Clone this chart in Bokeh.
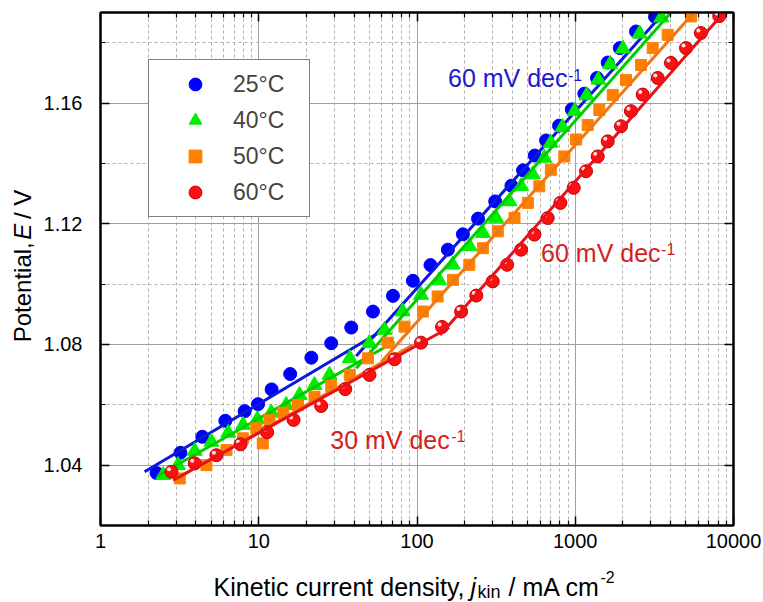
import numpy as np
from bokeh.plotting import figure
from bokeh.layouts import row, column
from bokeh.models import (LogAxis, LinearAxis, FixedTicker, PrintfTickFormatter,
                          CustomJSTickFormatter, Label, Legend, LegendItem, Range1d)
from bokeh.embed import file_html
from bokeh.resources import INLINE

# ---------------- data ----------------
x_ticks = [1, 10, 100, 1000, 10000]
x_minor = [m * 10 ** d for d in range(4) for m in range(2, 10)]
y_ticks = [1.04, 1.08, 1.12, 1.16]
y_minor = [1.02, 1.06, 1.10, 1.14, 1.18]

labels = ["25°C", "40°C", "50°C", "60°C"]

j25 = [2.26, 3.20, 4.40, 6.15, 8.15, 9.9, 12.06, 15.8, 21.5, 28.7, 38.4, 52.7, 70.5, 94.2,
       121.7, 156.7, 195, 243, 312, 395, 468, 555, 654, 790, 951, 1141, 1373, 1604, 1910,
       2420, 3190]
E25 = [1.0374, 1.0441, 1.0494, 1.0547, 1.0579, 1.0602, 1.0651, 1.0702, 1.0756, 1.0804,
       1.0856, 1.0909, 1.0961, 1.1011, 1.1063, 1.1114, 1.1165, 1.1217, 1.1274, 1.1326,
       1.1377, 1.1426, 1.1476, 1.1525, 1.1579, 1.1631, 1.1683, 1.1734, 1.1782, 1.1837,
       1.1886]

j40 = [2.49, 3.09, 3.94, 5.02, 6.41, 7.96, 9.8, 12.0, 14.9, 18.1, 22.5, 28.0, 37.6, 50.0,
       62.4, 81.1, 106, 138, 168, 215, 261, 316, 384, 455, 539, 638, 700, 830, 990, 1180,
       1400, 1660, 2000, 2550, 3500]
E40 = [1.0367, 1.0400, 1.0447, 1.0477, 1.0507, 1.0533, 1.0552, 1.0574, 1.0599, 1.0632,
       1.0665, 1.0699, 1.0754, 1.0804, 1.0848, 1.0909, 1.0964, 1.1012, 1.1064, 1.1125,
       1.1169, 1.1219, 1.1274, 1.1324, 1.1363, 1.1418, 1.1468, 1.1520, 1.1573, 1.1625,
       1.1677, 1.1729, 1.1780, 1.1830, 1.1883]

j50 = [3.17, 4.67, 6.25, 7.94, 9.66, 10.6, 11.7, 14.3, 17.7, 22.5, 28.7, 37.6, 49, 65.5,
       83.4, 109, 135, 169, 214, 261, 324, 413, 502, 593, 701, 853, 1012, 1199, 1420, 1725,
       2093, 2602, 3085, 3838, 5387]
E50 = [1.0356, 1.0400, 1.0450, 1.0489, 1.0522, 1.0472, 1.0549, 1.0574, 1.0599, 1.0627,
       1.0662, 1.0699, 1.0754, 1.0806, 1.0859, 1.0909, 1.0959, 1.1014, 1.1064, 1.1119,
       1.1175, 1.1219, 1.1269, 1.1324, 1.1379, 1.1423, 1.1479, 1.1527, 1.1577, 1.1627,
       1.1676, 1.1726, 1.1782, 1.1826, 1.1887]

j60 = [2.81, 3.94, 5.4, 7.67, 11.3, 16.6, 24.8, 35.2, 50.1, 72.1, 106, 144, 190, 237, 301,
       371, 455, 552, 670, 805, 978, 1170, 1387, 1604, 1946, 2250, 2669, 3320, 4027, 5012,
       6223, 8128]
E60 = [1.0378, 1.0406, 1.0433, 1.0469, 1.0509, 1.0550, 1.0596, 1.0652, 1.0699, 1.0751,
       1.0806, 1.0858, 1.0909, 1.0962, 1.1009, 1.1064, 1.1114, 1.1164, 1.1219, 1.1269,
       1.1319, 1.1374, 1.1423, 1.1473, 1.1523, 1.1573, 1.1628, 1.1683, 1.1733, 1.1782,
       1.1832, 1.1888]

# Tafel fit lines (end points)
fit25_low_j, fit25_low_E = [1.9, 56.6], [1.0378, 1.0837]
fit25_high_j, fit25_high_E = [41.3, 3637], [1.0762, 1.19]
fit40_low_j, fit40_low_E = [2.3, 72.1], [1.0365, 1.0809]
fit40_high_j, fit40_high_E = [41.3, 4027], [1.0721, 1.19]
fit50_low_j, fit50_low_E = [3.02, 94], [1.0356, 1.0798]
fit50_high_j, fit50_high_E = [59.4, 5623], [1.0742, 1.19]
fit60_low_j, fit60_low_E = [2.88, 160], [1.0350, 1.0856]
fit60_high_j, fit60_high_E = [140, 8690], [1.0831, 1.19]

# annotation anchors (data coords, text baseline)
ann_blue = (157, 1.1655)
ann_red = (608, 1.1074)
ann_30 = (28.3, 1.0456)

# ---------------- layout constants ----------------
FONT = "Liberation Sans"
DESC = 0.212          # font descent (em) -> shift from 'bottom' to the baseline
BLUE_M, BLUE_L = "#0000ff", "#0a1ad8"
GREEN_M, GREEN_L = "#00ee00", "#00cc00"
ORANGE_M, ORANGE_L = "#ff8000", "#f07810"
RED_M, RED_L = "#ff1010", "#e8101a"
BLUE_T, RED_T = "#1a1acc", "#d41e1e"

W, H = 763, 602
YLAB_W = 40          # strip holding the vertical axis title
XLAB_H = 42          # strip holding the horizontal axis title
MAIN_W, MAIN_H = W - YLAB_W, H - XLAB_H
FL, FR, FT, FB = 99, 733, 12, 525  # frame edges in page pixels

p = figure(width=MAIN_W, height=MAIN_H, x_axis_type="log",
           x_range=Range1d(1, 10000), y_range=Range1d(1.02, 1.19),
           output_backend="svg", toolbar_location=None,
           min_border_left=FL - YLAB_W, min_border_right=W - FR, min_border_top=FT,
           min_border_bottom=MAIN_H - FB)
p.background_fill_color = "white"
p.border_fill_color = "white"
p.outline_line_color = "black"
p.outline_line_width = 2

xt = FixedTicker(ticks=x_ticks, minor_ticks=x_minor)
yt = FixedTicker(ticks=y_ticks, minor_ticks=y_minor)


def style_axis(ax, show_labels):
    ax.axis_line_color = "black"
    ax.axis_line_width = 2
    ax.major_tick_in = 9
    ax.major_tick_out = 0
    ax.minor_tick_in = 5
    ax.minor_tick_out = 0
    ax.major_tick_line_width = 1.5
    ax.minor_tick_line_width = 1.2
    ax.major_tick_line_color = "black"
    ax.minor_tick_line_color = "black"
    if show_labels:
        ax.major_label_text_font = FONT
        ax.major_label_text_font_size = "20px"
        ax.major_label_text_color = "black"
    else:
        ax.major_label_text_font_size = "0px"
        ax.major_label_standoff = 0
        ax.formatter = CustomJSTickFormatter(code="return ''")


xa = p.xaxis[0]
xa.ticker = xt
xa.formatter = PrintfTickFormatter(format="%d")
xa.major_label_standoff = 8
style_axis(xa, True)

ya = p.yaxis[0]
ya.ticker = yt
ya.formatter = PrintfTickFormatter(format="%.2f")
ya.major_label_standoff = 18
style_axis(ya, True)

top = LogAxis(ticker=xt)
style_axis(top, False)
p.add_layout(top, "above")
right = LinearAxis(ticker=yt)
style_axis(right, False)
p.add_layout(right, "right")

for g in (p.xgrid[0], p.ygrid[0]):
    g.grid_line_color = "#a0a0a0"
    g.grid_line_width = 1
    g.minor_grid_line_color = "#b0b0b0"
    g.minor_grid_line_dash = "3 3"
    g.minor_grid_line_width = 1
p.xgrid[0].ticker = xt
p.ygrid[0].ticker = yt

# ---------------- series ----------------
r25 = p.scatter(j25, E25, marker="circle", size=13, fill_color=BLUE_M, line_color=BLUE_M)
p.line(fit25_low_j, fit25_low_E, line_color=BLUE_L, line_width=3)
p.line(fit25_high_j, fit25_high_E, line_color=BLUE_L, line_width=3)

r40 = p.scatter(j40, E40, marker="triangle", size=15, fill_color=GREEN_M, line_color=GREEN_M)
p.line(fit40_low_j, fit40_low_E, line_color=GREEN_L, line_width=3)
p.line(fit40_high_j, fit40_high_E, line_color=GREEN_L, line_width=3)

r50 = p.scatter(j50, E50, marker="square", size=11, fill_color=ORANGE_M, line_color=ORANGE_M)
p.line(fit50_low_j, fit50_low_E, line_color=ORANGE_L, line_width=3)
p.line(fit50_high_j, fit50_high_E, line_color=ORANGE_L, line_width=3)

r60 = p.scatter(j60, E60, marker="circle", size=13, fill_color=RED_M, line_color="#c00000",
                line_width=1)
# specular highlight on the red "spheres"
hx = [v * 10 ** (-2.5 / 158.4) for v in j60]
hy = [v + 2.5 / 3012 for v in E60]
p.scatter(hx, hy, marker="circle", size=4, fill_color="white", line_color=None, fill_alpha=0.9)
p.line(fit60_low_j, fit60_low_E, line_color=RED_L, line_width=3)
p.line(fit60_high_j, fit60_high_E, line_color=RED_L, line_width=3)

# ---------------- legend ----------------
legend = Legend(items=[LegendItem(label=labels[0], renderers=[r25]),
                       LegendItem(label=labels[1], renderers=[r40]),
                       LegendItem(label=labels[2], renderers=[r50]),
                       LegendItem(label=labels[3], renderers=[r60])],
                location=(48, 308), margin=0, padding=8, spacing=4,
                glyph_width=76, glyph_height=32, label_width=68, label_height=32,
                label_standoff=0, label_text_font=FONT, label_text_font_size="23px",
                border_line_color="black", border_line_width=1,
                background_fill_color="white", background_fill_alpha=1)
p.add_layout(legend)


# ---------------- annotations ----------------
def ann(pos, text, color, dx, dy):
    p.add_layout(Label(x=pos[0], y=pos[1], text=text, y_offset=-DESC * 25,
                       text_font=FONT, text_font_size="25px", text_color=color,
                       text_baseline="bottom"))
    p.add_layout(Label(x=pos[0], y=pos[1], text="-1", x_offset=dx, y_offset=dy - DESC * 16,
                       text_font=FONT, text_font_size="16px", text_color=color,
                       text_baseline="bottom"))


ann(ann_blue, "60 mV dec", BLUE_T, 120, 9)
ann(ann_red, "60 mV dec", RED_T, 120, 10)
ann(ann_30, "30 mV dec", RED_T, 121, 10)


# ---------------- axis-title strips ----------------
def strip(w, h):
    f = figure(width=w, height=h, x_range=Range1d(0, w), y_range=Range1d(0, h),
               x_axis_type=None, y_axis_type=None, output_backend="svg",
               toolbar_location=None, min_border=0)
    f.outline_line_color = None
    f.background_fill_color = "white"
    f.border_fill_color = "white"
    return f


def hlab(f, px, base, text, size, style="normal"):
    """horizontal text: px = page x of start, base = page y of baseline"""
    f.add_layout(Label(x=px, y=(H - base) - DESC * size, text=text, text_font=FONT,
                       text_font_size=f"{size}px", text_font_style=style,
                       text_color="black", text_baseline="bottom"))


def vlab(f, base, py, text, size, style="normal"):
    """text turned 90 deg: base = page x of baseline, py = page y where it starts"""
    f.add_layout(Label(x=base + DESC * size, y=MAIN_H - py, text=text, text_font=FONT,
                       text_font_size=f"{size}px", text_font_style=style,
                       text_color="black", text_baseline="bottom", angle=np.pi / 2))


yf = strip(YLAB_W, MAIN_H)
vlab(yf, 30, 360, "Potential,", 24)
vlab(yf, 30, 248, "E", 24, "italic")
vlab(yf, 30, 225.5, "/ V", 24)

xf = strip(W, XLAB_H)
hlab(xf, 213, 595, "Kinetic current density,", 25)
hlab(xf, 470, 595, "j", 25, "italic")
hlab(xf, 477, 598, "kin", 18)
hlab(xf, 508, 595, "/ mA cm", 25)
hlab(xf, 600, 579, "-2", 16)

layout = column(row(yf, p, spacing=0), xf, spacing=0)
open("out.html", "w").write(file_html(layout, INLINE))
